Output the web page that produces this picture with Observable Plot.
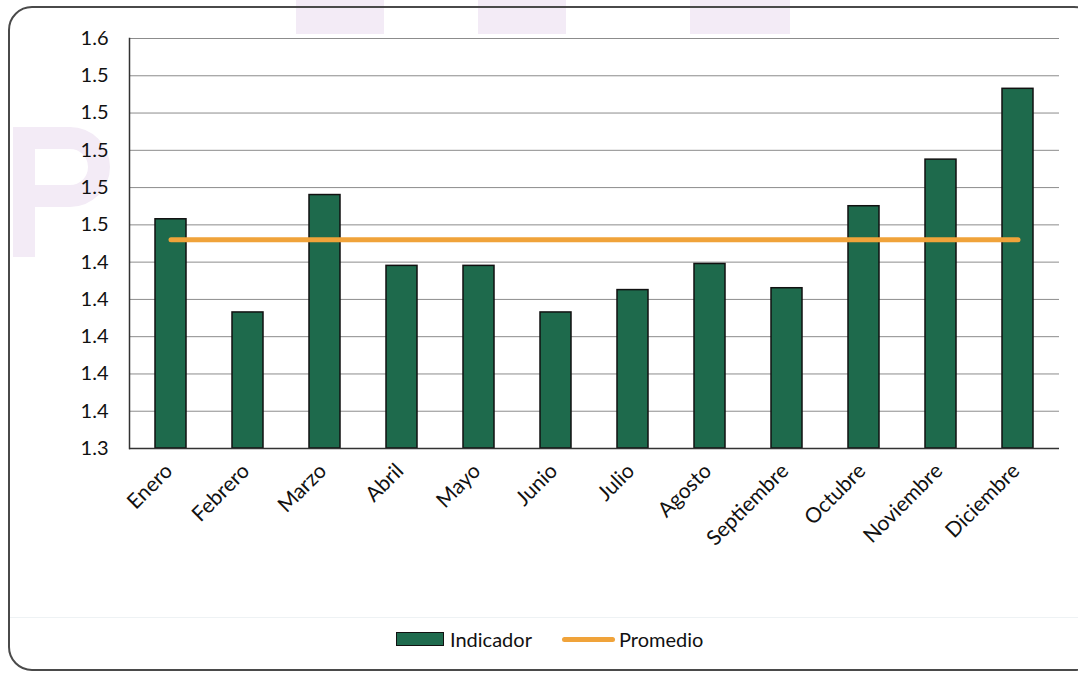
<!DOCTYPE html>
<html>
<head>
<meta charset="utf-8">
<script src="https://cdn.jsdelivr.net/npm/d3@7"></script>
<script src="https://cdn.jsdelivr.net/npm/@observablehq/plot@0.6"></script>
<style>
  html, body { margin: 0; padding: 0; background: #fff; }
  body { width: 1078px; height: 673px; overflow: hidden; position: relative; font-family: Lato, "Open Sans", sans-serif; }
  #frame { position: absolute; left: 8px; top: 6px; width: 1090px; height: 665px; border: 2px solid #4a4a4a; border-radius: 24px; box-sizing: border-box; }
  .wm { position: absolute; background: #f3ebf6; }
  #sep { position: absolute; left: 10px; right: 0; top: 617px; height: 1px; background: #eef2f4; }
  #chart { position: absolute; left: 0; top: 0; }
  #legend { position: absolute; top: 626px; left: 0; width: 1078px; height: 26px; font-size: 20px; color: #111; }
  .sw { position: absolute; }
  .lbl { position: absolute; top: 0; line-height: 26px; }
</style>
</head>
<body>
<div class="wm" style="left:296px;top:0;width:88px;height:34px"></div>
<div class="wm" style="left:478px;top:0;width:88px;height:34px"></div>
<div class="wm" style="left:690px;top:0;width:100px;height:34px"></div>
<div class="wm" style="left:13px;top:127px;width:22px;height:130px"></div>
<div style="position:absolute;left:13px;top:127px;width:97px;height:80px;border:22px solid #f3ebf6;border-left-width:0;border-radius:0 42px 42px 0;box-sizing:border-box"></div>
<div id="sep"></div>
<div id="frame"></div>
<div id="chart"></div>
<div id="legend">
  <div class="sw" style="left:396px;top:6px;width:48px;height:14px;background:#1f6b4e;border:1.5px solid #111;box-sizing:border-box"></div>
  <div class="lbl" style="left:450px">Indicador</div>
  <div class="sw" style="left:562px;top:11px;width:53px;height:5px;background:#f0a33a;border-radius:3px"></div>
  <div class="lbl" style="left:619px">Promedio</div>
</div>
<script>
const meses = ["Enero","Febrero","Marzo","Abril","Mayo","Junio","Julio","Agosto","Septiembre","Octubre","Noviembre","Diciembre"];
const indicador = [1.463, 1.413, 1.476, 1.438, 1.438, 1.413, 1.425, 1.439, 1.426, 1.470, 1.495, 1.533];
const promedio = 1.452;
const yTicks = [1.34, 1.36, 1.38, 1.40, 1.42, 1.44, 1.46, 1.48, 1.50, 1.52, 1.54, 1.56];

const data = meses.map((m, i) => ({mes: m, valor: indicador[i], promedio}));

const chart = Plot.plot({
  width: 1078,
  height: 600,
  marginTop: 38,
  marginLeft: 129,
  marginRight: 19,
  marginBottom: 152,
  style: {fontFamily: "Lato, 'Open Sans', sans-serif", fontSize: "20px", color: "#111", background: "transparent", overflow: "visible"},
  x: {domain: meses, paddingInner: 0.6, paddingOuter: 0.3, label: null},
  y: {domain: [yTicks[0], yTicks[yTicks.length - 1]], label: null},
  marks: [
    Plot.gridY(yTicks, {stroke: "#8c8c8c", strokeOpacity: 1, strokeWidth: 1}),
    Plot.barY(data, {x: "mes", y1: yTicks[0], y2: "valor", fill: "#1e6a4c", stroke: "#111", strokeWidth: 1.5}),
    Plot.lineY(data, {x: "mes", y: "promedio", stroke: "#f0a33a", strokeWidth: 5, strokeLinecap: "round"}),
    Plot.ruleY([yTicks[0]], {stroke: "#333", strokeWidth: 1.5}),
    Plot.frame({anchor: "left", stroke: "#333", strokeWidth: 1.5}),
    Plot.axisY(yTicks, {tickSize: 0, tickPadding: 21, tickFormat: d => d.toFixed(1), fontSize: 20}),
    Plot.axisX({tickSize: 0, tickPadding: 19, tickRotate: -45, fontSize: 21, dx: -2})
  ]
});
document.getElementById("chart").appendChild(chart);
</script>
</body>
</html>
